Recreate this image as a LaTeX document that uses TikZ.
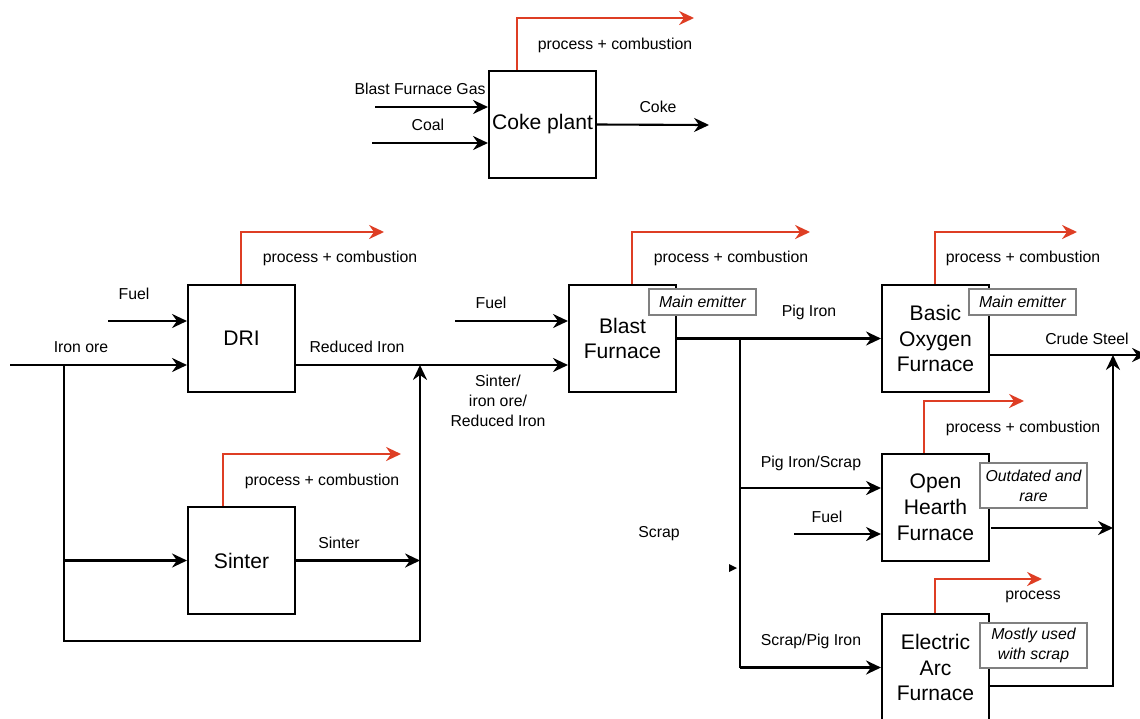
\documentclass[tikz,border=0pt]{standalone}
\usepackage{fontspec}
\setmainfont{Liberation Sans}
\usetikzlibrary{arrows.meta,positioning}
\definecolor{emitred}{RGB}{222,62,36}
\tikzset{
	unit/.style={draw,line width=1.2pt,minimum width=2.14cm,minimum height=2.14cm,align=center,inner sep=1pt,font=\fontsize{12}{14.7}\selectfont},
	flow/.style={line width=1.2pt,-{Stealth[length=8.5pt,width=8pt,inset=2.8pt]}},
	pipe/.style={line width=1.2pt},
	emit/.style={draw=emitred,line width=1.1pt,-{Stealth[length=8.5pt,width=8pt,inset=2.8pt]}},
	lbl/.style={font=\fontsize{9}{11.3}\selectfont,inner sep=0pt,align=center},
	note/.style={draw=black!50,line width=1pt,fill=white,minimum width=2.14cm,inner sep=1pt,align=center,font=\fontsize{9}{11.3}\selectfont\itshape}
}
\begin{document}
\begin{tikzpicture}[x=0.02cm,y=-0.02cm]
	\useasboundingbox (0,0) rectangle (1140,718);
	\node[unit] (coke) at (542.5,124.5) {Coke plant};
	\node[unit] (dri) at (241.5,338.5) {DRI};
	\node[unit] (sinter) at (241.5,560.5) {Sinter};
	\node[unit] (bf) at (622.5,338.5) {Blast\\Furnace};
	\node[unit] (bof) at (935.5,338.5) {Basic\\Oxygen\\Furnace};
	\node[unit] (ohf) at (935.5,507.5) {Open\\Hearth\\Furnace};
	\node[unit] (eaf) at (935.5,667.5) {Electric\\Arc\\Furnace};
	\coordinate (bfgas) at (375,107);
	\coordinate (coal) at (372,143);
	\coordinate (cokeout) at (709,125);
	\coordinate (drifuel) at (108,321);
	\coordinate (orein) at (10,365);
	\coordinate (split) at (64,365);
	\coordinate (loop) at (64,641);
	\coordinate (merge) at (420,365);
	\coordinate (bffuel) at (455,321);
	\coordinate (tap) at (740,338.5);
	\coordinate (tapohf) at (740,488);
	\coordinate (tapeaf) at (740,667.5);
	\coordinate (ohffuel) at (794,534);
	\coordinate (ohfout) at (991,528);
	\coordinate (eafout) at (989,686);
	\coordinate (steel) at (1113,355);
	\coordinate (steelout) at (1147,355);
	\coordinate (cokeem) at (694,18);
	\coordinate (driem) at (384,232);
	\coordinate (sinem) at (401,454);
	\coordinate (bfem) at (810,232);
	\coordinate (bofem) at (1077,232);
	\coordinate (ohfem) at (1024,401);
	\coordinate (eafem) at (1042,579);
	\draw[flow] (bfgas) -- (bfgas -| coke.west);
	\draw[flow] (coal) -- (coal -| coke.west);
	\draw[flow] (coke.east) -- (cokeout);
	\draw[flow] (drifuel) -- (drifuel -| dri.west);
	\draw[flow] (orein) -- (orein -| dri.west);
	\draw[flow] (split) |- (loop) -| (merge);
	\draw[flow] (split |- sinter.west) -- (sinter.west);
	\draw[flow] (sinter.east) -- (sinter.east -| merge);
	\draw[flow] (dri.east |- merge) -- (merge -| bf.west);
	\draw[flow] (bffuel) -- (bffuel -| bf.west);
	\draw[flow] (bf.east) -- (bof.west);
	\draw[pipe] (tap) -- (tapeaf);
	\draw[flow] (tapohf) -- (tapohf -| ohf.west);
	\draw[flow] (tapeaf) -- (eaf.west);
	\draw[flow] (ohffuel) -- (ohffuel -| ohf.west);
	\draw[flow] (bof.east |- steel) -- (steelout);
	\draw[flow] (ohfout) -- (ohfout -| steel);
	\draw[flow] (eafout) -| (steel);
	\fill (729,564) -- (737,568) -- (729,572) -- cycle;
	\draw[emit] (coke.north west) ++(29,0) |- (cokeem);
	\draw[emit] (dri.north west) ++(54,0) |- (driem);
	\draw[emit] (sinter.north west) ++(36,0) |- (sinem);
	\draw[emit] (bf.north west) ++(64,0) |- (bfem);
	\draw[emit] (bof.north west) ++(54,0) |- (bofem);
	\draw[emit] (ohf.north west) ++(43,0) |- (ohfem);
	\draw[emit] (eaf.north west) ++(54,0) |- (eafem);
	\node[note,minimum height=0.52cm] (bfnote) at (702.5,302) {Main emitter};
	\node[note,minimum height=0.52cm] (bofnote) at (1022.5,302) {Main emitter};
	\node[note,minimum height=0.9cm] (ohfnote) at (1033.5,485.5) {Outdated and\\rare};
	\node[note,minimum height=0.9cm] (eafnote) at (1033.5,645.5) {Mostly used\\with scrap};
	\node[lbl] (cokeco2) at (615,45) {process + combustion};
	\node[lbl] (drico2) at (340,258) {process + combustion};
	\node[lbl] (sinco2) at (322,481) {process + combustion};
	\node[lbl] (bfco2) at (731,258) {process + combustion};
	\node[lbl] (bofco2) at (1023,258) {process + combustion};
	\node[lbl] (ohfco2) at (1023,428) {process + combustion};
	\node[lbl] (eafco2) at (1033,597) {process};
	\node[lbl] (bfgaslbl) at (420,89) {Blast Furnace Gas};
	\node[lbl] (coallbl) at (428,125) {Coal};
	\node[lbl] (cokelbl) at (658,107) {Coke};
	\node[lbl] (drifuellbl) at (134,294) {Fuel};
	\node[lbl] (orelbl) at (81,347) {Iron ore};
	\node[lbl] (redlbl) at (357,347) {Reduced Iron};
	\node[lbl] (sinlbl) at (339,543) {Sinter};
	\node[lbl] (bffuellbl) at (491,303) {Fuel};
	\node[lbl] (bfinlbl) at (498,401) {Sinter/\\iron ore/\\Reduced Iron};
	\node[lbl] (piglbl) at (809,312) {Pig Iron};
	\node[lbl] (steellbl) at (1087,339) {Crude Steel};
	\node[lbl] (pigscraplbl) at (811,463) {Pig Iron/Scrap};
	\node[lbl] (ohffuellbl) at (827,517) {Fuel};
	\node[lbl] (scraplbl) at (659,534) {Scrap};
	\node[lbl] (scrappiglbl) at (811,641) {Scrap/Pig Iron};
\end{tikzpicture}
\end{document}
